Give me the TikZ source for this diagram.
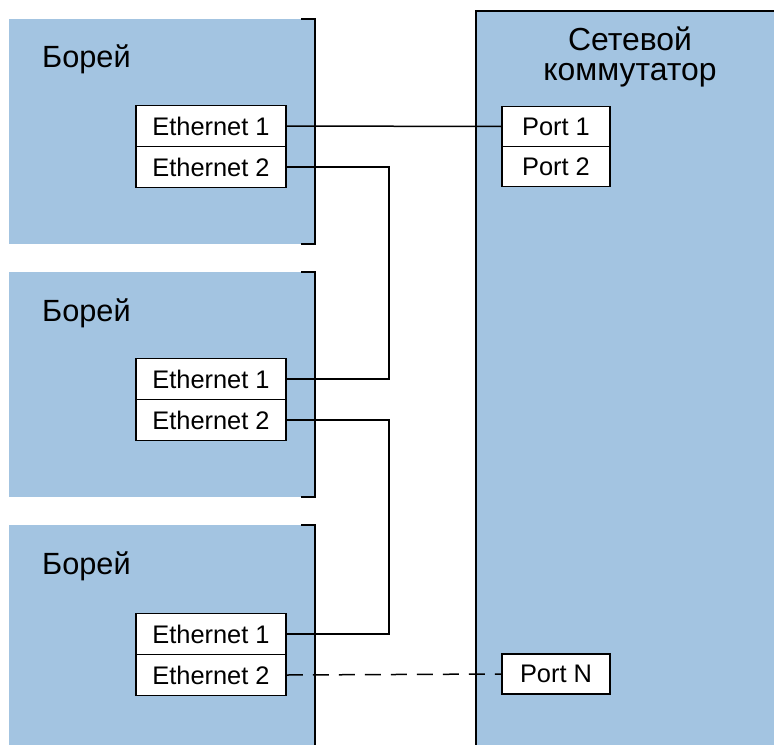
\documentclass[tikz,border=0pt]{standalone}
\usepackage{fontspec}
\setmainfont{Liberation Sans}
\definecolor{boxblue}{HTML}{A3C4E1}
\begin{document}
\begin{tikzpicture}[x=1bp,y=-1bp,
  every node/.style={font=\fontsize{25.5}{29}\selectfont},
  port/.style={draw=black,line width=1.5bp,fill=white,minimum width=150bp,minimum height=41bp,inner sep=0},
  swport/.style={draw=black,line width=1.5bp,fill=white,minimum width=108bp,minimum height=40bp,inner sep=0},
  title/.style={font=\fontsize{30.8}{32}\selectfont,anchor=base west,inner sep=0},
  wire/.style={line width=1.5bp,black},
  frame/.style={line width=2bp,black}]
\useasboundingbox (0,0) rectangle (774,745);
% Switch
\fill[boxblue] (476,11) rectangle (774,745);
\draw[frame] (476,745) -- (476,11) -- (774,11);
\node[align=center,font=\fontsize{32}{30}\selectfont,anchor=base,inner sep=0] (swt) at (630,80) {Сетевой\\коммутатор};
% Borei boxes
\fill[boxblue] (9,19) rectangle (315,244);
\draw[frame] (301,19) -- (315,19) -- (315,244) -- (301,244);
\fill[boxblue] (9,272) rectangle (315,497);
\draw[frame] (301,272) -- (315,272) -- (315,497) -- (301,497);
\fill[boxblue] (9,525) rectangle (315,745);
\draw[frame] (301,525) -- (315,525) -- (315,745);
\node[title] (b1) at (42,68) {Борей};
\node[title] (b2) at (42,321) {Борей};
\node[title] (b3) at (42,574) {Борей};
% ports
\node[port] (e11) at (211,126) {Ethernet 1};
\node[port] (e12) at (211,167) {Ethernet 2};
\node[port] (e21) at (211,379) {Ethernet 1};
\node[port] (e22) at (211,420) {Ethernet 2};
\node[port] (e31) at (211,634) {Ethernet 1};
\node[port] (e32) at (211,675) {Ethernet 2};
\node[swport] (p1) at (556,126.5) {Port 1};
\node[swport] (p2) at (556,166.5) {Port 2};
\node[swport] (pn) at (556,674) {Port N};
\draw[wire] (e11.east) -- (p1.west);
\draw[wire] (e12.east) -- ++(102,0) |- (e21.east);
\draw[wire] (e22.east) -- ++(102,0) |- (e31.east);
\draw[wire,dash pattern=on 16bp off 10bp] (e32.east) -- (pn.west);
\end{tikzpicture}
\end{document}
